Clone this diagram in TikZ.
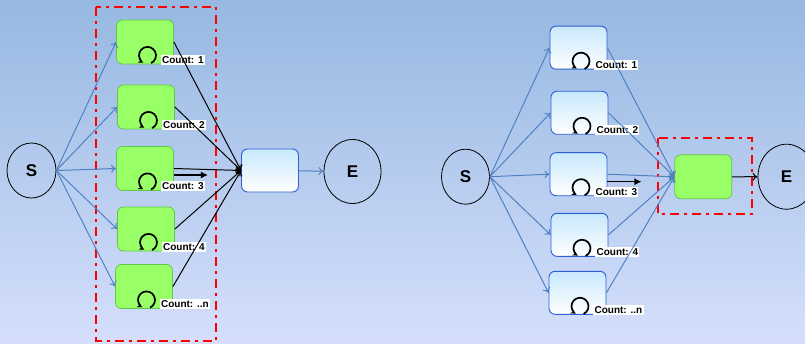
\documentclass[tikz,border=0pt]{standalone}
\usepackage{fontspec}
\setmainfont{Liberation Sans}
\usetikzlibrary{arrows.meta,shapes.geometric}
\definecolor{bgtop}{RGB}{150,184,225}
\definecolor{bgmid}{RGB}{195,211,244}
\definecolor{bgbot}{RGB}{213,223,252}
\definecolor{boxtop}{RGB}{200,232,253}
\definecolor{boxline}{RGB}{45,95,210}
\definecolor{greenfill}{RGB}{153,255,102}
\definecolor{greenline}{RGB}{95,200,75}
\definecolor{flow}{RGB}{80,130,195}
\begin{document}
\begin{tikzpicture}[x=1pt,y=1pt,
    endpoint/.style={draw=black,line width=0.8pt,ellipse,inner sep=0pt,font=\fontsize{17}{17}\bfseries},
    worker/.style={draw=greenline,fill=greenfill,line width=0.8pt,rounded corners=6pt,minimum width=57pt,minimum height=44pt},
    queue/.style={draw=boxline,top color=boxtop,bottom color=white,line width=0.9pt,rounded corners=6pt,minimum width=57pt,minimum height=43pt},
    counter/.style={fill=white,inner sep=1.4pt,anchor=west,font=\fontsize{10}{11}\bfseries},
    flowarrow/.style={draw=flow,line width=1pt,-{To[length=5pt,width=8pt]}},
    blackarrow/.style={draw=black,line width=1pt,-{To[length=5pt,width=8pt]}},
    pusharrow/.style={draw=black,line width=1.2pt,-{Latex[length=7pt,width=7pt]}},
    loopmark/.style={draw=black,line width=1.7pt,-{Stealth[length=5pt,width=5pt]}},
    group/.style={draw=red,line width=2pt,dash pattern=on 9pt off 5pt on 3pt off 5pt}]
\useasboundingbox (0,0) rectangle (805,343);
\clip (0,0) rectangle (805,343);
\shade[top color=bgtop,middle color=bgmid,bottom color=bgbot] (0,0) rectangle (805,343);

% left: many green workers feeding one queue
\node[endpoint,minimum width=49pt,minimum height=55pt] (s1) at (31.5,172.5) {S};
\node[worker] (a1) at (145,301) {};
\node[worker] (a2) at (146,236) {};
\node[worker] (a3) at (145,174.5) {};
\node[worker] (a4) at (146,114) {};
\node[worker] (a5) at (144,56.5) {};
\node[queue] (m1) at (270,172.5) {};
\node[endpoint,minimum width=57pt,minimum height=64pt] (e1) at (352.5,171.5) {E};
\draw[group] (96,336) rectangle (216,2.5);

\foreach \i/\t in {1/1,2/2,3/3,4/4,5/..n}{
  \draw[loopmark] ([shift={(2.5,9)}]a\i.south) ++(-65:8.5) arc[start angle=-65,end angle=240,radius=8.5];
  \node[counter] (ca\i) at ([shift={(15.5,4.5)}]a\i.south) {Count: \t};
  \draw[flowarrow] (s1.east) -- (a\i.west);
  \draw[blackarrow] (a\i.east) -- (m1.west);
}
\coordinate (pa) at ([yshift=-6.5pt]a3.east);
\draw[pusharrow] (pa) -- ++(34,0);
\draw[flowarrow] (m1) -- (e1);

% right: plain queues feeding one green worker
\node[endpoint,minimum width=48pt,minimum height=55pt] (s2) at (465.5,166.3) {S};
\node[queue] (b1) at (578.5,295.3) {};
\node[queue] (b2) at (579.5,230.2) {};
\node[queue] (b3) at (578.5,168.8) {};
\node[queue] (b4) at (579.5,108.2) {};
\node[queue] (b5) at (577.5,50.2) {};
\node[worker] (g2) at (703.3,166.2) {};
\node[endpoint,minimum width=57pt,minimum height=65pt] (e2) at (786.5,166.3) {E};
\draw[group] (658,204.7) rectangle (752,128.7);

\foreach \i/\t in {1/1,2/2,3/3,4/4,5/..n}{
  \draw[loopmark] ([shift={(2.5,8.5)}]b\i.south) ++(-65:8.5) arc[start angle=-65,end angle=240,radius=8.5];
  \node[counter] (cb\i) at ([shift={(15.5,4.5)}]b\i.south) {Count: \t};
  \draw[flowarrow] (s2.east) -- (b\i.west);
  \draw[flowarrow] (b\i.east) -- (g2.west);
}
\coordinate (pb) at ([yshift=-7.5pt]b3.east);
\draw[pusharrow] (pb) -- ++(34,0);
\draw[blackarrow] (g2) -- (e2);
\end{tikzpicture}
\end{document}
